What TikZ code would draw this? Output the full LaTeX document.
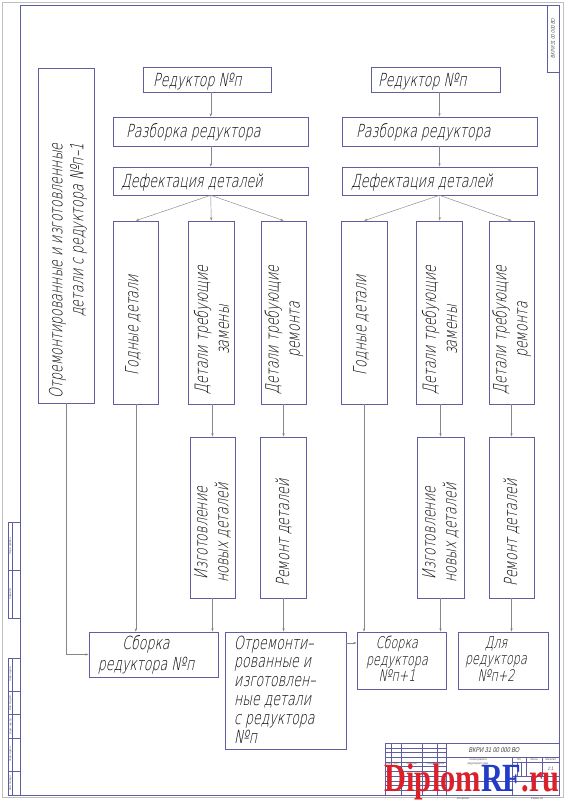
\documentclass[tikz,border=0pt]{standalone}
\usepackage{fontspec}
\usepackage{graphicx}
\setmainfont{Liberation Sans}
\newfontfamily\gost{DejaVuSans-ExtraLight.ttf}[FakeSlant=0.2,FakeStretch=0.70]
\newfontfamily\gostsm{Liberation Sans}[FakeSlant=0.2,FakeStretch=0.8]
\newfontfamily\wmfont{Liberation Serif}
\usetikzlibrary{arrows.meta,fit}
\definecolor{frm}{RGB}{95,95,160}
\definecolor{cn}{RGB}{135,135,135}
\definecolor{wmred}{RGB}{218,32,40}
\definecolor{wmblue}{RGB}{35,60,200}
\tikzset{
 bx/.style={draw=frm, line width=0.6pt, inner sep=0pt},
 con/.style={draw=cn, line width=0.45pt, -{Stealth[length=3.5pt,width=2.2pt]}},
 tx/.style={font=\gost\fontsize{18}{21}\selectfont, inner sep=0pt, text=black},
 txs/.style={font=\gost\fontsize{16}{16.5}\selectfont, inner sep=0pt, align=center, text=black},
 vt/.style={tx, rotate=90, align=center},
 tbl/.style={draw=frm, line width=0.4pt},
 tbk/.style={draw=frm, line width=0.7pt},
 tiny/.style={font=\gostsm\fontsize{3}{3.5}\selectfont, inner sep=0pt, text=black!65},
 wm/.style={anchor=base west, inner sep=0pt, xscale=0.76, font=\wmfont\bfseries\fontsize{40}{40}\selectfont, text=wmred},
}
\newcommand\bbox[3]{\node[bx, fit={#2 #3}] (#1) {};}
\begin{document}
\begin{tikzpicture}[x=1pt,y=-1pt]
\useasboundingbox (0,0) rectangle (565,800);
\fill[white] (0,0) rectangle (565,800);
\draw[black!25, line width=0.5pt] (2.5,2) rectangle (563,797.5);
\draw[frm, line width=0.8pt] (20,5) rectangle (559,795);

% top-right stamp
\bbox{stamp}{(547,5)}{(559,72)}
\node[tiny, rotate=90, font=\gostsm\fontsize{5.5}{6}\selectfont] (stampt) at (553,38.5) {ВКРИ 31 00 000 ВО};

% left strip
\draw[tbl] (8,522) rectangle (20,618);
\draw[tbl] (12.5,522) -- (12.5,618);
\draw[tbl] (8,570) -- (20,570);
\node[tiny, rotate=90] (lsa) at (10.3,546) {Перв. примен.};
\node[tiny, rotate=90] (lsb) at (10.3,594) {Справ. №};
\draw[tbl] (8,658) rectangle (20,795);
\draw[tbl] (12.5,658) -- (12.5,795);
\foreach \yy in {691,714.6,738.3,771.4} \draw[tbl] (8,\yy) -- (20,\yy);
\node[tiny, rotate=90] (lsc) at (10.3,674.5) {Подп. и дата};
\node[tiny, rotate=90] (lsd) at (10.3,702.8) {Инв. № дубл.};
\node[tiny, rotate=90] (lse) at (10.3,726.5) {Взам. инв. №};
\node[tiny, rotate=90] (lsf) at (10.3,754.8) {Подп. и дата};
\node[tiny, rotate=90] (lsg) at (10.3,783.2) {Инв. № подл.};

% boxes
\bbox{r1}{(143,67)}{(271,92)}
\bbox{r2}{(371,67)}{(500,92)}
\bbox{rz1}{(113.5,117)}{(308,146)}
\bbox{rz2}{(342,117)}{(537,146)}
\bbox{d1}{(113.5,167)}{(308,195)}
\bbox{d2}{(342,167)}{(537,195)}
\bbox{tall}{(38,68)}{(94,403)}
\bbox{g1}{(113,221)}{(158.5,404)}
\bbox{z1}{(188.5,221)}{(234,404)}
\bbox{p1}{(261,221)}{(306.7,404)}
\bbox{g2}{(341,221)}{(387,404)}
\bbox{z2}{(416.6,221)}{(462.7,404)}
\bbox{p2}{(489,221)}{(534.4,404)}
\bbox{iz1}{(190,437)}{(235,598)}
\bbox{rm1}{(260.5,437)}{(306.7,598)}
\bbox{iz2}{(417,437)}{(464,598)}
\bbox{rm2}{(489,437)}{(534,598)}
\bbox{s1}{(89,632)}{(218,677)}
\bbox{ot}{(225,632)}{(346,749)}
\bbox{s2}{(357,632)}{(446,689)}
\bbox{dl}{(458,632)}{(548.5,689)}

% texts
\node[tx, anchor=base west] (r1t) at (153,86) {Редуктор №п};
\node[tx, anchor=base west] (r2t) at (378,86) {Редуктор №п};
\node[tx, anchor=base west] (rz1t) at (126,137.5) {Разборка редуктора};
\node[tx, anchor=base west] (rz2t) at (356,137.5) {Разборка редуктора};
\node[tx, anchor=base west] (d1t) at (121,187) {Дефектация деталей};
\node[tx, anchor=base west] (d2t) at (351,187) {Дефектация деталей};

\node[vt, align=right] (tallt) at (68,271) {Отремонтированные и изготовленные\\детали с редуктора №п–1};
\node[vt] (g1t) at (133,325) {Годные детали};
\node[vt] (z1t) at (211.5,330) {Детали требующие\\замены};
\node[vt] (p1t) at (284,330) {Детали требующие\\ремонта};
\node[vt] (g2t) at (361,325) {Годные детали};
\node[vt] (z2t) at (439.6,330) {Детали требующие\\замены};
\node[vt] (p2t) at (511.7,330) {Детали требующие\\ремонта};
\node[vt] (iz1t) at (212.5,533) {Изготовление\\новых деталей};
\node[vt] (rm1t) at (283.6,533) {Ремонт деталей};
\node[vt] (iz2t) at (440.5,533) {Изготовление\\новых деталей};
\node[vt] (rm2t) at (511.5,533) {Ремонт деталей};

\node[tx, align=center] (s1t) at (146,655) {Сборка\\редуктора №п};
\node[tx, align=left, anchor=west, font=\gost\fontsize{18}{18.8}\selectfont] (ott) at (234,689.5) {Отремонти–\\рованные и\\изготовлен–\\ные детали\\с редуктора\\№п};
\node[txs] (s2t) at (397,659) {Сборка\\редуктора\\№п+1};
\node[txs] (dlt) at (496,659) {Для\\редуктора\\№п+2};

% connectors
\draw[con] (r1.south -| rz1.north) -- (rz1.north);
\draw[con] (r2.south -| rz2.north) -- (rz2.north);
\draw[con] (rz1.south) -- (d1.north);
\draw[con] (rz2.south) -- (d2.north);
\draw[con] (d1.south) -- (g1.north);
\draw[con] (d1.south) -- (z1.north);
\draw[con] (d1.south) -- (p1.north);
\draw[con] (d2.south) -- (g2.north);
\draw[con] (d2.south) -- (z2.north);
\draw[con] (d2.south) -- (p2.north);
\draw[con] (iz1.north |- z1.south) -- (iz1.north);
\draw[con] (rm1.north |- p1.south) -- (rm1.north);
\draw[con] (iz2.north |- z2.south) -- (iz2.north);
\draw[con] (rm2.north |- p2.south) -- (rm2.north);
\draw[con] (tall.south) |- (s1.west);
\draw[con] (g1.south) -- (g1.south |- s1.north);
\draw[con] (iz1.south) -- (iz1.south |- s1.north);
\draw[con] (rm1.south) -- (rm1.south |- ot.north);
\coordinate (oty) at (0,643);
\draw[con] (ot.east |- oty) -- (s2.west |- oty);
\draw[con] (g2.south) -- (g2.south |- s2.north);
\draw[con] (iz2.south) -- (iz2.south |- s2.north);
\draw[con] (rm2.south) -- (rm2.south |- dl.north);

% title block
\draw[tbk] (385,743) rectangle (559,795);
\foreach \yy in {747.7,752.5,757.2,761.9,766.6,771.4,776.1,780.8,785.5,790.3} \draw[tbl] (385,\yy) -- (446.1,\yy);
\draw[tbl] (391.6,743) -- (391.6,766.6);
\foreach \xx in {401.0,422.6,436.7} \draw[tbl] (\xx,743) -- (\xx,795);
\draw[tbk] (446.1,743) -- (446.1,795);
\draw[tbl] (446.1,757.2) -- (559,757.2);
\draw[tbl] (446.1,780.8) -- (559,780.8);
\draw[tbl] (512,757.2) -- (512,795);
\draw[tbl] (512,761.9) -- (559,761.9);
\draw[tbl] (512,776.1) -- (559,776.1);
\foreach \xx in {526.1,542.1} \draw[tbl] (\xx,757.2) -- (\xx,776.1);
\foreach \xx in {516.7,521.4} \draw[tbl] (\xx,761.9) -- (\xx,776.1);
\draw[tbl] (530.8,776.1) -- (530.8,780.8);
\node[tiny, font=\gostsm\fontsize{7}{8}\selectfont, text=black!75] (des) at (494,750) {ВКРИ 31 00 000 ВО};
\node[tiny, align=center] (nm) at (478,762) {Схема ремонта\\редукторного двиг.};
\node[tiny] (lit) at (519,759.6) {Лит.};
\node[tiny] (mas) at (534,759.6) {Масса};
\node[tiny] (msh) at (550.5,759.6) {Масштаб};
\node[tiny, font=\gostsm\fontsize{5}{6}\selectfont] (scl) at (550.5,769) {1:1};
\node[tiny] (h1) at (388.3,763.6) {Изм.};
\node[tiny] (h2) at (396.3,763.6) {Лист};
\node[tiny] (h3) at (411.8,763.6) {№ докум.};
\node[tiny] (h4) at (429.6,763.6) {Подп.};
\node[tiny] (h5) at (441.4,763.6) {Дата};
\node[tiny] (kop) at (463,798.3) {Копировал};
\node[tiny] (fmt) at (537,798.3) {Формат А1};

% watermark
\node[wm] (wm1) at (384,791) {Di};
\node[wm] (wm2) at (wm1.base east) {p};
\node[wm] (wm3) at (wm2.base east) {lom\textcolor{wmblue}{RF}};
\node[wm] (wm4) at (wm3.base east) {.ru};
\end{tikzpicture}
\end{document}
